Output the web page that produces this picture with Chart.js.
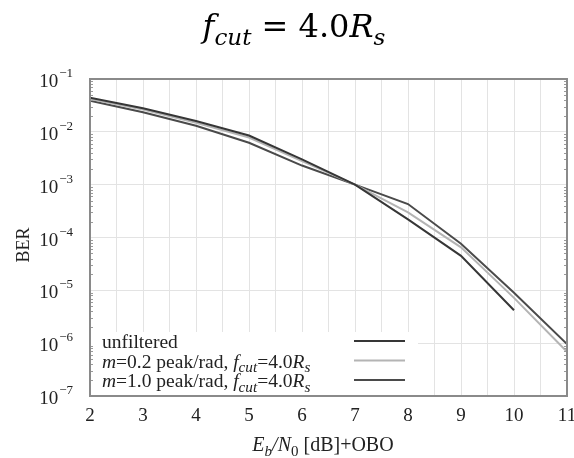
<!DOCTYPE html>
<html>
<head>
<meta charset="utf-8">
<script src="https://cdn.jsdelivr.net/npm/chart.js@4.4.1/dist/chart.umd.min.js"></script>
<style>
  html, body { margin: 0; padding: 0; background: #fff; overflow: hidden; }
  #wrap { width: 590px; height: 458px; }
</style>
</head>
<body>
<div id="wrap"><canvas id="berChart" width="590" height="458"></canvas></div>
<script>
// Eb/N0 [dB]+OBO
var ebno = [2, 3, 4, 5, 6, 7, 8, 9, 10, 11];
// BER curves
var berUnfiltered = [0.044, 0.028, 0.016, 0.0085, 0.0030, 0.00100, 0.00022, 0.000045, 0.0000042, null];
var berM02 = [0.042, 0.0265, 0.0148, 0.0078, 0.0028, 0.00100, 0.00030, 0.000065, 0.0000072, 0.00000069];
var berM10 = [0.039, 0.0235, 0.0130, 0.0062, 0.0023, 0.00100, 0.00043, 0.000076, 0.0000090, 0.00000096];
var yTickValues = [1e-1, 1e-2, 1e-3, 1e-4, 1e-5, 1e-6, 1e-7];
var yTickExps = [-1, -2, -3, -4, -5, -6, -7];

var SERIF = '"Liberation Serif", "Times New Roman", serif';

function toPoints(arr) {
    var pts = [];
    for (var i = 0; i < ebno.length; i++) {
        if (arr[i] !== null) pts.push({ x: ebno[i], y: arr[i] });
    }
    return pts;
}

// a run of text pieces: [text, italic, sub]
function richWidth(ctx, parts, size, family, subScale) {
    var w = 0;
    parts.forEach(function (p) {
        var s = p[2] ? size * subScale : size;
        ctx.font = (p[1] ? 'italic ' : '') + s + 'px ' + family;
        w += ctx.measureText(p[0]).width;
    });
    return w;
}
function drawRich(ctx, parts, x, y, size, family, color, subScale) {
    ctx.save();
    ctx.fillStyle = color;
    ctx.textAlign = 'left';
    ctx.textBaseline = 'alphabetic';
    parts.forEach(function (p) {
        var s = p[2] ? size * subScale : size;
        ctx.font = (p[1] ? 'italic ' : '') + s + 'px ' + family;
        ctx.fillText(p[0], x, y + (p[2] ? size * 0.25 : 0));
        x += ctx.measureText(p[0]).width;
    });
    ctx.restore();
}

var legendRows = [
    { color: '#363636', parts: [['unfiltered', false, false]] },
    { color: '#b4b4b4', parts: [['m', true, false], ['=0.2 peak/rad, ', false, false], ['f', true, false], ['cut', true, true], ['=4.0', false, false], ['R', true, false], ['s', true, true]] },
    { color: '#4a4a4a', parts: [['m', true, false], ['=1.0 peak/rad, ', false, false], ['f', true, false], ['cut', true, true], ['=4.0', false, false], ['R', true, false], ['s', true, true]] }
];

var decorPlugin = {
    id: 'decor',
    beforeDatasetsDraw: function (chart) {
        var ctx = chart.ctx, a = chart.chartArea;
        // legend box covers the grid
        ctx.save();
        ctx.fillStyle = '#fff';
        ctx.fillRect(a.left + 1, 332, 327, a.bottom - 332);
        ctx.restore();
    },
    afterDraw: function (chart) {
        var ctx = chart.ctx, a = chart.chartArea;
        var ys = chart.scales.y;

        // minor ticks on left and right border
        ctx.save();
        ctx.strokeStyle = '#9a9a9a';
        ctx.lineWidth = 1;
        for (var d = -7; d < -1; d++) {
            for (var k = 2; k <= 9; k++) {
                var py = Math.round(ys.getPixelForValue(k * Math.pow(10, d))) + 0.5;
                ctx.beginPath();
                ctx.moveTo(a.left, py); ctx.lineTo(a.left + 3, py);
                ctx.moveTo(a.right, py); ctx.lineTo(a.right - 3, py);
                ctx.stroke();
            }
        }
        ctx.restore();

        // frame
        ctx.save();
        ctx.strokeStyle = '#8a8a8a';
        ctx.lineWidth = 2;
        ctx.strokeRect(a.left, a.top, a.right - a.left, a.bottom - a.top);
        ctx.restore();

        // y tick labels 10^n
        ctx.save();
        ctx.fillStyle = '#222';
        ys.ticks.forEach(function (t, i) {
            var py = ys.getPixelForValue(t.value);
            var sup = '\u2212' + Math.abs(yTickExps[i]);
            ctx.font = '13px ' + SERIF;
            var sw = ctx.measureText(sup).width;
            ctx.textBaseline = 'alphabetic';
            ctx.textAlign = 'left';
            ctx.fillText(sup, 73 - sw, py - 2);
            ctx.font = '19px ' + SERIF;
            ctx.textAlign = 'right';
            ctx.fillText('10', 73 - sw - 1, py + 8);
        });
        ctx.restore();

        // BER
        ctx.save();
        ctx.translate(24, 245);
        ctx.rotate(-Math.PI / 2);
        ctx.font = '18px ' + SERIF;
        ctx.fillStyle = '#222';
        ctx.textAlign = 'center';
        ctx.textBaseline = 'middle';
        ctx.fillText('BER', 0, 0);
        ctx.restore();

        // x title
        var xt = [['E', true, false], ['b', true, true], ['/N', true, false], ['0', false, true], [' [dB]+OBO', false, false]];
        var xw = richWidth(ctx, xt, 20, SERIF, 0.75);
        drawRich(ctx, xt, 323 - xw / 2, 451, 20, SERIF, '#222', 0.75);

        // title
        var tt = [['f', true, false], ['cut', true, true], [' = 4.0', false, false], ['R', true, false], ['s', true, true]];
        var tw = richWidth(ctx, tt, 32, '"DejaVu Serif", serif', 0.72);
        drawRich(ctx, tt, 294 - tw / 2, 37, 32, '"DejaVu Serif", serif', '#000', 0.72);

        // legend
        legendRows.forEach(function (r, i) {
            var by = 348 + i * 19.5;
            drawRich(ctx, r.parts, 102, by, 19.5, SERIF, '#222', 0.78);
            ctx.save();
            ctx.strokeStyle = r.color;
            ctx.lineWidth = 2;
            ctx.beginPath();
            ctx.moveTo(354, by - 7);
            ctx.lineTo(405, by - 7);
            ctx.stroke();
            ctx.restore();
        });
    }
};

new Chart(document.getElementById('berChart'), {
    type: 'line',
    data: {
        datasets: [
            { label: 'unfiltered', data: toPoints(berUnfiltered), borderColor: '#363636', borderWidth: 2, pointRadius: 0, tension: 0 },
            { label: 'm=0.2 peak/rad', data: toPoints(berM02), borderColor: '#b4b4b4', borderWidth: 2, pointRadius: 0, tension: 0 },
            { label: 'm=1.0 peak/rad', data: toPoints(berM10), borderColor: '#4a4a4a', borderWidth: 2, pointRadius: 0, tension: 0 }
        ]
    },
    options: {
        responsive: false,
        animation: false,
        layout: { padding: { top: 79, right: 23, left: 0, bottom: 0 } },
        plugins: {
            legend: { display: false },
            title: { display: false },
            tooltip: { enabled: false }
        },
        scales: {
            x: {
                type: 'linear',
                min: 2,
                max: 11,
                afterFit: function (s) { s.height = 62; },
                grid: { color: '#e3e3e3', drawTicks: false },
                border: { display: false },
                ticks: {
                    stepSize: 0.5,
                    autoSkip: false,
                    maxRotation: 0,
                    padding: 9,
                    color: '#222',
                    font: { family: SERIF, size: 19 },
                    callback: function (v) { return Number.isInteger(v) ? String(v) : ''; }
                }
            },
            y: {
                type: 'logarithmic',
                min: 1e-7,
                max: 1e-1,
                afterFit: function (s) { s.width = 90; },
                afterBuildTicks: function (s) {
                    s.ticks = yTickValues.map(function (v) { return { value: v }; });
                },
                grid: { color: '#e3e3e3', drawTicks: false },
                border: { display: false },
                ticks: { display: false }
            }
        }
    },
    plugins: [decorPlugin]
});
</script>
</body>
</html>
